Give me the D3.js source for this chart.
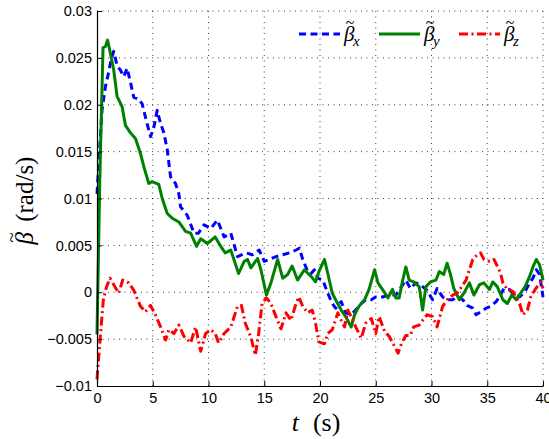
<!DOCTYPE html>
<meta charset="utf-8">
<head>
  <style>
    body { margin: 0; background: #fff; }
    svg { display: block; background: #fff; }
    .tick text { font: 14.5px "Liberation Sans", Arial, sans-serif; fill: #000; }
    .grid line { stroke: #000; stroke-opacity: 0.75; stroke-dasharray: 1,4.5; }
    .title { font-family: "Liberation Serif", "Times New Roman", serif; fill: #000; }
  </style>
</head>
<body>
<script src="https://cdn.jsdelivr.net/npm/d3@7"></script>
<script>

// data
var timeX = [0, 0.15, 0.45, 0.75, 1.05, 1.26, 1.5, 1.8, 2.1, 2.4, 2.7, 3.0, 3.3, 3.74, 4.05, 4.34, 4.8, 5.1, 5.4, 5.7,
  6.0, 6.3, 6.6, 7.04, 7.34, 7.5, 8.1, 8.7, 9.1, 9.6, 10.2, 10.8, 11.4, 12.0, 12.6, 13.35, 13.95, 14.55, 15.0, 15.45,
  16.05, 16.65, 17.25, 17.85, 18.15, 18.45, 18.9, 19.2, 19.5, 19.8, 20.25, 20.7, 21.1, 21.4, 21.9, 22.3, 22.8, 23.2, 23.7, 24.1,
  24.6, 25.0, 25.6, 26.2, 26.8, 27.2, 27.7, 28.1, 28.6, 29.0, 29.6, 30.1, 30.5, 31.0, 31.4, 31.9, 32.3, 32.8, 33.2, 33.7,
  34.0, 34.4, 34.9, 35.3, 35.8, 36.1, 36.5, 37.0, 37.4, 37.9, 38.4, 38.8, 39.1, 39.4, 39.7, 40.0];
var betaX = [0.0105, 0.0135, 0.0194, 0.0219, 0.0235, 0.0248, 0.0257, 0.0242, 0.0237, 0.0230, 0.0239, 0.0224, 0.0208, 0.0206, 0.0201, 0.0187, 0.0166, 0.0176, 0.0194, 0.0180,
  0.0170, 0.0152, 0.0123, 0.0116, 0.0105, 0.0091, 0.0082, 0.0063, 0.0063, 0.0072, 0.0068, 0.0077, 0.0059, 0.0063, 0.0038, 0.0042, 0.0040, 0.0045, 0.0033, 0.0035,
  0.0038, 0.0040, 0.0042, 0.0045, 0.0047, 0.0035, 0.0022, 0.0020, 0.0024, 0.0015, 0.0013, -0.0001, -0.0012, -0.0017, -0.0010, -0.0022, -0.0024, -0.0019, -0.0012, -0.0008,
  -0.0008, -0.0005, -0.0005, -0.0003, -0.0003, 0.0004, 0.0013, 0.0004, 0.0010, 0.0008, 0.0002, -0.0008, 0.0004, -0.0005, -0.0008, -0.0008, -0.0005, -0.0008, -0.0014, -0.0017,
  -0.0024, -0.0021, -0.0017, -0.0015, -0.0010, -0.0005, 0.0004, 0.0003, -0.0003, -0.0005, 0.0001, 0.0010, 0.0015, 0.0024, 0.0019, -0.0005];

var timeY = [0, 0.25, 0.54, 0.75, 0.95, 1.2, 1.5, 1.8, 2.25, 2.55, 3.0, 3.45, 3.9, 4.2, 4.64, 4.94, 5.54, 5.85, 6.3, 6.74,
  7.34, 7.94, 8.4, 8.93, 9.3, 9.9, 10.6, 11.1, 11.5, 12.0, 12.7, 13.2, 13.5, 13.8, 14.4, 14.7, 15.2, 15.6, 16.2, 16.65,
  17.1, 17.5, 17.99, 18.6, 19.2, 19.6, 19.9, 20.4, 20.7, 21.1, 21.4, 21.9, 22.3, 22.8, 23.1, 23.5, 24.0, 24.4, 24.9, 25.2,
  25.6, 26.1, 26.5, 26.8, 27.1, 27.4, 27.7, 28.0, 28.4, 28.9, 29.2, 29.5, 29.9, 30.4, 30.7, 31.1, 31.4, 31.7, 32.0, 32.5,
  32.9, 33.4, 33.8, 34.3, 34.7, 35.2, 35.5, 35.9, 36.4, 36.8, 37.2, 37.6, 38.0, 38.4, 38.8, 39.1, 39.4, 39.7, 40.0];
var betaY = [-0.0045, 0.0120, 0.0261, 0.0262, 0.0269, 0.0255, 0.0237, 0.0209, 0.0198, 0.0178, 0.0170, 0.0164, 0.0148, 0.0134, 0.0116, 0.0118, 0.0115, 0.0100, 0.0084, 0.0079,
  0.0075, 0.0065, 0.0063, 0.0049, 0.0057, 0.0052, 0.0059, 0.0049, 0.0042, 0.0045, 0.0020, 0.0033, 0.0035, 0.0026, 0.0036, 0.0024, -0.0003, 0.0010, 0.0035, 0.0015,
  0.0019, 0.0028, 0.0013, 0.0024, 0.0017, 0.0011, 0.0022, 0.0035, 0.0020, -0.0001, -0.0008, -0.0019, -0.0026, -0.0037, -0.0024, -0.0015, -0.0008, 0.0003, 0.0024, 0.0010,
  0.0003, -0.0006, 0.0003, -0.0006, -0.0006, 0.0012, 0.0027, 0.0013, 0.0011, 0.0006, -0.0019, 0.0006, 0.0011, 0.0013, 0.0022, 0.0019, 0.0031, 0.0019, 0.0004, -0.0008,
  -0.0001, 0.0010, -0.0003, 0.0008, 0.0010, 0.0003, 0.0011, 0.0006, -0.0008, -0.0012, -0.0003, -0.0008, -0.0001, 0.0006, 0.0017, 0.0027, 0.0035, 0.0029, 0.0013];

var timeZ = [0, 0.27, 0.57, 0.86, 1.17, 1.6, 1.95, 2.3, 2.84, 3.3, 3.9, 4.34, 4.8, 5.24, 5.7, 6.15, 6.44, 6.9, 7.34, 7.8,
  8.4, 8.84, 9.3, 9.74, 10.2, 10.6, 10.9, 11.4, 12.0, 12.6, 12.95, 13.3, 13.8, 14.2, 14.5, 14.8, 15.2, 15.6, 16.05, 16.5,
  16.95, 17.4, 17.85, 18.1, 18.45, 18.9, 19.3, 19.6, 19.9, 20.4, 20.7, 21.1, 21.6, 21.9, 22.2, 22.5, 22.8, 23.2, 23.7, 24.1,
  24.6, 25.0, 25.3, 25.8, 26.2, 26.7, 27.0, 27.3, 27.7, 28.1, 28.4, 28.9, 29.2, 29.6, 30.1, 30.5, 31.0, 31.4, 31.9, 32.3,
  32.6, 33.1, 33.4, 33.7, 34.1, 34.4, 34.7, 35.2, 35.6, 35.9, 36.2, 36.4, 36.8, 37.3, 37.6, 37.9, 38.2, 38.6, 38.9, 39.3,
  39.6, 39.8, 40.0];
var betaZ = [-0.0093, -0.0051, -0.0008, 0.0006, 0.0015, 0.0006, -0.0001, 0.0013, 0.0010, 0.0002, -0.0015, -0.0021, -0.0014, -0.0024, -0.0037, -0.0051, -0.0040, -0.0044, -0.0035, -0.0047,
  -0.0054, -0.0037, -0.0063, -0.0044, -0.0040, -0.0044, -0.0054, -0.0044, -0.0037, -0.0015, -0.0014, -0.0033, -0.0048, -0.0067, -0.0044, -0.0012, -0.0006, -0.0012, -0.0026, -0.0039,
  -0.0022, -0.0030, -0.0012, -0.0005, -0.0015, -0.0022, -0.0019, -0.0033, -0.0053, -0.0055, -0.0044, -0.0040, -0.0022, -0.0030, -0.0037, -0.0019, -0.0026, -0.0037, -0.0049, -0.0033,
  -0.0028, -0.0044, -0.0026, -0.0042, -0.0047, -0.0058, -0.0065, -0.0055, -0.0046, -0.0046, -0.0037, -0.0035, -0.0030, -0.0024, -0.0026, -0.0037, -0.0015, -0.0008, -0.0003, -0.0001,
  0.0004, 0.0013, 0.0024, 0.0035, 0.0040, 0.0042, 0.0035, 0.0033, 0.0035, 0.0028, 0.0020, 0.0010, 0.0003, 0.0001, -0.0006, -0.0012, -0.0024, -0.0019, -0.0005, 0.0003,
  0.0008, 0.0011, 0.0004];

var xTicks = [0, 5, 10, 15, 20, 25, 30, 35, 40];
var yTicks = [-0.01, -0.005, 0, 0.005, 0.01, 0.015, 0.02, 0.025, 0.03];
var yTickLabels = ["\u22120.01", "\u22120.005", "0", "0.005", "0.01", "0.015", "0.02", "0.025", "0.03"];
var seriesNames = ["x", "y", "z"];

// dimensions
var margin = {top: 11, right: 6, bottom: 53, left: 97},
    width = 549 - margin.left - margin.right,
    height = 439 - margin.top - margin.bottom;

var x = d3.scaleLinear().domain([0, 40]).range([0, width]);
var y = d3.scaleLinear().domain([-0.01, 0.03]).range([height, 0]);

var svg = d3.select("body").append("svg")
    .attr("width", 549)
    .attr("height", 439)
  .append("g")
    .attr("transform", "translate(" + margin.left + "," + margin.top + ")");

// beta with a tilde on top, the tilde drawn as its own tspan
function betaTilde(text, size) {
  text.append("tspan").style("font-style", "italic").text("\u03b2");
  text.append("tspan")
    .attr("dx", -0.42 * size).attr("dy", -0.6 * size)
    .style("font-size", (0.75 * size) + "px")
    .style("font-style", "normal")
    .text("~");
  return -0.06 * size;   // dx to get back after the tilde
}

// dotted grid
svg.append("g").attr("class", "grid")
  .selectAll("line").data(xTicks.slice(1)).enter().append("line")
    .attr("x1", function(d) { return x(d); }).attr("x2", function(d) { return x(d); })
    .attr("y1", 0).attr("y2", height);
svg.append("g").attr("class", "grid")
  .selectAll("line").data(yTicks.slice(1)).enter().append("line")
    .attr("x1", 0).attr("x2", width)
    .attr("y1", function(d) { return y(d); }).attr("y2", function(d) { return y(d); });

// lines
var line = d3.line()
    .x(function(d) { return x(d[0]); })
    .y(function(d) { return y(d[1]); });

var series = [
  {name: "x", t: timeX, v: betaX, color: "#0000ff", dash: "7,4.5"},
  {name: "y", t: timeY, v: betaY, color: "#008000", dash: null},
  {name: "z", t: timeZ, v: betaZ, color: "#ff0000", dash: "9,3.5,2,3.5"}
];

series.forEach(function(s) {
  svg.append("path")
    .datum(d3.zip(s.t, s.v))
    .attr("fill", "none")
    .attr("stroke", s.color)
    .attr("stroke-width", 3)
    .attr("stroke-linejoin", "round")
    .attr("stroke-dasharray", s.dash)
    .attr("d", line);
});

// axes, ticks inside
var xAxis = svg.append("g")
    .attr("transform", "translate(0," + height + ")")
    .call(d3.axisBottom(x).tickValues(xTicks).tickSizeInner(-5).tickSizeOuter(0).tickPadding(7));
var yAxis = svg.append("g")
    .call(d3.axisLeft(y).tickValues(yTicks).tickFormat(function(d, i) { return yTickLabels[i]; })
      .tickSizeInner(-5).tickSizeOuter(0).tickPadding(5));
[xAxis, yAxis].forEach(function(a) {
  a.select(".domain").attr("stroke", "#000").attr("stroke-width", 1.2);
  a.selectAll(".tick line").attr("stroke", "#000");
});

// axis titles
var xt = svg.append("text")
    .attr("class", "title")
    .attr("x", width / 2 - 4)
    .attr("y", height + 45)
    .attr("text-anchor", "middle")
    .style("font-size", "26px");
xt.append("tspan").style("font-style", "italic").text("t");
xt.append("tspan").attr("dx", 14).text("(s)");

var yt = svg.append("text")
    .attr("class", "title")
    .attr("transform", "translate(" + (-margin.left + 33) + "," + (height / 2 + 2) + ") rotate(-90)")
    .attr("text-anchor", "middle")
    .style("font-size", "25px");
var back = betaTilde(yt, 25);
yt.append("tspan").attr("dx", back + 12).attr("dy", 0.6 * 25).text("(rad/s)");

// legend
var legend = svg.append("g").attr("transform", "translate(" + (299 - margin.left) + "," + (34 - margin.top) + ")");
var legendX = [0, 80, 160];
series.forEach(function(s, i) {
  var g = legend.append("g").attr("transform", "translate(" + legendX[i] + ",0)");
  g.append("line")
    .attr("x1", 0).attr("x2", 41)
    .attr("stroke", s.color).attr("stroke-width", 3)
    .attr("stroke-dasharray", s.dash);
  var t = g.append("text")
    .attr("class", "title")
    .attr("x", 45).attr("y", 7)
    .style("font-size", "21px");
  var b = betaTilde(t, 21);
  t.append("tspan").attr("dx", b).attr("dy", 0.6 * 21 + 5)
    .style("font-size", "15px").style("font-style", "italic").text(seriesNames[i]);
});

</script>
</body>
